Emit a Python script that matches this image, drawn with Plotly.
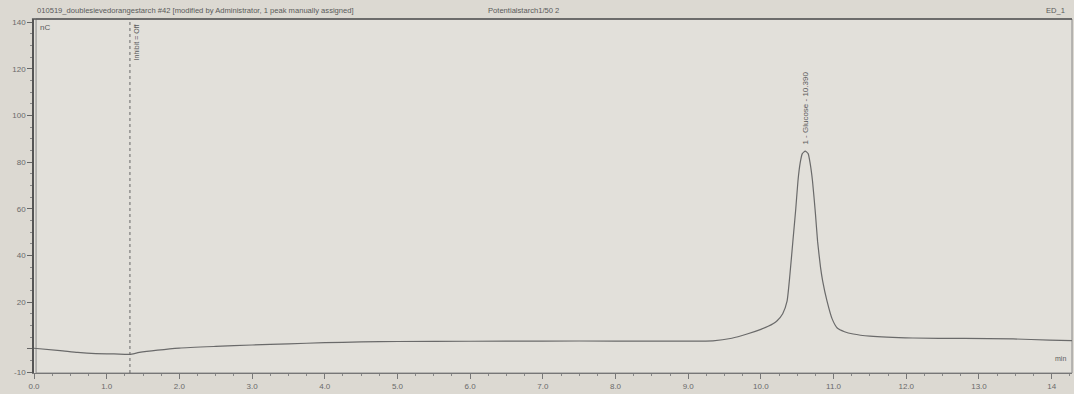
import plotly.graph_objects as go

# Chromatogram data (time in min, signal in nC)
time_min = [0.0, 0.36, 0.6, 0.85, 1.1, 1.25, 1.32, 1.45, 1.7, 2.0, 2.5, 3.0, 3.5, 4.0, 4.5, 5.0, 6.0, 7.0,
            8.0, 8.9, 9.34, 9.6, 9.81, 10.0, 10.1, 10.22, 10.3, 10.36, 10.40, 10.44, 10.48, 10.51, 10.54,
            10.57, 10.61, 10.65, 10.68, 10.71, 10.75, 10.78, 10.82, 10.85, 10.91, 10.98, 11.05, 11.15,
            11.27, 11.5, 12.09, 12.8, 13.47, 13.97, 14.28]
signal_nc = [0.2, -0.8, -1.6, -2.1, -2.2, -2.4, -2.4, -1.6, -0.6, 0.3, 1.0, 1.6, 2.1, 2.6, 2.9, 3.1, 3.2, 3.3,
             3.3, 3.3, 3.4, 4.5, 6.3, 8.3, 9.6, 11.9, 15.0, 20.4, 32.0, 46.0, 60.0, 71.9, 79.5,
             83.6, 84.7, 83.6, 79.0, 71.9, 58.0, 46.0, 35.0, 29.0, 20.4, 12.8, 8.9, 7.3,
             6.3, 5.4, 4.6, 4.4, 4.2, 3.7, 3.5]

x_tick_vals = [0, 1, 2, 3, 4, 5, 6, 7, 8, 9, 10, 11, 12, 13, 14]
x_tick_text = ["0.0", "1.0", "2.0", "3.0", "4.0", "5.0", "6.0", "7.0", "8.0", "9.0",
               "10.0", "11.0", "12.0", "13.0", "14"]
y_tick_vals = [-10, 0, 20, 40, 60, 80, 100, 120, 140]
y_tick_text = ["-10", "", "20", "40", "60", "80", "100", "120", "140"]

inhibit_time = 1.32
peak_time = 10.61
peak_label = "1 - Glucose - 10.390"

txt = "#5a5a5a"
fnt = "Liberation Sans, Arial, sans-serif"

fig = go.Figure()
fig.add_trace(go.Scatter(x=time_min, y=signal_nc, mode="lines",
                         line=dict(color="#6a6a6a", width=1.2, shape="spline", smoothing=0.5),
                         hoverinfo="skip", showlegend=False))

fig.update_layout(
    width=1074, height=394,
    margin=dict(l=34, r=2, t=19, b=21),
    paper_bgcolor="#dcd9d2",
    plot_bgcolor="#e2e0da",
    font=dict(family=fnt, size=8, color=txt),
    xaxis=dict(range=[0, 14.28], tickvals=x_tick_vals, ticktext=x_tick_text,
               showgrid=False, zeroline=False, showline=True, linecolor="#777", linewidth=1,
               ticks="outside", ticklen=5, tickcolor="#777",
               minor=dict(dtick=0.25, ticks="outside", ticklen=2, tickcolor="#888"),
               tickfont=dict(size=8, color="#6a6a6a")),
    yaxis=dict(range=[-10.4, 141.3], tickvals=y_tick_vals, ticktext=y_tick_text,
               showgrid=False, zeroline=False, showline=True, linecolor="#555", linewidth=1.5,
               ticks="outside", ticklen=5, tickcolor="#666",
               minor=dict(dtick=5, ticks="outside", ticklen=2, tickcolor="#888"),
               tickfont=dict(size=8, color="#6a6a6a")),
)

# frame / header line
fig.add_shape(type="rect", xref="paper", yref="paper", x0=0.002, x1=1, y0=0, y1=1,
              line=dict(color="#8a8a8a", width=1), layer="below")
fig.add_shape(type="line", xref="paper", yref="paper", x0=-0.002, x1=1, y0=1, y1=1,
              line=dict(color="#555", width=1.5))

# inhibit marker
fig.add_shape(type="line", x0=inhibit_time, x1=inhibit_time, yref="paper", y0=0, y1=1,
              line=dict(color="#666", width=1, dash="dot"))
fig.add_annotation(x=inhibit_time, y=1, yref="paper", text="Inhibit = Off", textangle=-90,
                   showarrow=False, xanchor="left", yanchor="top", xshift=1, yshift=-3,
                   font=dict(size=7, color=txt))

# peak label
fig.add_annotation(x=peak_time, y=86.5, text=peak_label, textangle=-90, showarrow=False,
                   xanchor="center", yanchor="bottom", font=dict(size=8, color=txt))

# header texts
fig.add_annotation(xref="paper", yref="paper", x=0.001, y=1, yshift=2, xanchor="left", yanchor="bottom",
                   text="010519_doublesievedorangestarch #42 [modified by Administrator, 1 peak manually assigned]",
                   showarrow=False, font=dict(size=7.6, color=txt))
fig.add_annotation(xref="paper", yref="paper", x=0.435, y=1, yshift=2, xanchor="left", yanchor="bottom",
                   text="Potentialstarch1/50 2", showarrow=False, font=dict(size=7.6, color=txt))
fig.add_annotation(xref="paper", yref="paper", x=0.995, y=1, yshift=2, xanchor="right", yanchor="bottom",
                   text="ED_1", showarrow=False, font=dict(size=7.6, color=txt))

# unit labels
fig.add_annotation(xref="paper", yref="paper", x=0.004, y=0.995, xanchor="left", yanchor="top",
                   text="nC", showarrow=False, font=dict(size=8, color=txt))
fig.add_annotation(xref="paper", yref="paper", x=0.996, y=0.025, xanchor="right", yanchor="bottom",
                   text="min", showarrow=False, font=dict(size=7, color=txt))

fig.write_html("out.html", config={"displayModeBar": False},
               post_script="document.body.style.margin='0px';document.body.style.overflow='hidden';")
